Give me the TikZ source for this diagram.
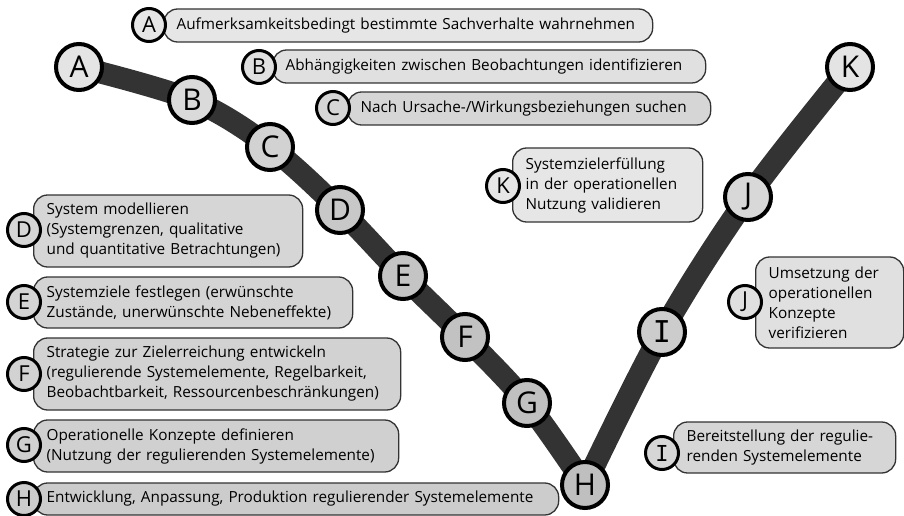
\documentclass[tikz,border=0pt]{standalone}
\usepackage{fontspec}
\setmainfont{Open Sans}
\newfontfamily\serifI{DejaVu Sans Mono}
\usetikzlibrary{backgrounds}
\definecolor{bandc}{HTML}{333333}
\definecolor{cA}{HTML}{E4E4E4}
\definecolor{cB}{HTML}{DADADA}
\definecolor{cC}{HTML}{D2D2D2}
\definecolor{cD}{HTML}{C8C8C8}
\definecolor{cE}{HTML}{C4C4C4}
\definecolor{cF}{HTML}{C2C2C2}
\definecolor{cG}{HTML}{C0C0C0}
\definecolor{cH}{HTML}{BFBFBF}
\definecolor{cI}{HTML}{CCCCCC}
\definecolor{cJ}{HTML}{D8D8D8}
\definecolor{cK}{HTML}{E4E4E4}
\definecolor{bA}{HTML}{E6E6E6}
\definecolor{bB}{HTML}{E0E0E0}
\definecolor{bC}{HTML}{D6D6D6}
\definecolor{bD}{HTML}{D6D6D6}
\definecolor{bE}{HTML}{D4D4D4}
\definecolor{bF}{HTML}{D2D2D2}
\definecolor{bG}{HTML}{D0D0D0}
\definecolor{bH}{HTML}{CCCCCC}
\definecolor{bI}{HTML}{D6D6D6}
\definecolor{bJ}{HTML}{E0E0E0}
\definecolor{bK}{HTML}{E6E6E6}
\begin{document}
\begin{tikzpicture}[x=1pt,y=-1pt,
  big/.style={circle, draw=black, line width=4pt, minimum size=46pt, inner sep=0pt, font=\fontsize{30}{30}\selectfont},
  small/.style={circle, draw=black, line width=3pt, minimum size=33pt, inner sep=0pt, font=\fontsize{22}{22}\selectfont},
  lbl/.style={draw=bandc, line width=1.3pt, rounded corners=14pt, inner xsep=13pt, inner ysep=0pt, align=left, anchor=west, font=\fontsize{15.3}{20}\selectfont},
  band/.style={draw=bandc, line width=22pt}
]
\useasboundingbox (0,0) rectangle (904,516);

% big circles on the V
\node[big, fill=cA] (A) at (79,67) {A};
\node[big, fill=cB] (B) at (192,100) {B};
\node[big, fill=cC] (C) at (270,147) {C};
\node[big, fill=cD] (D) at (340,210) {D};
\node[big, fill=cE] (E) at (403,276) {E};
\node[big, fill=cF] (F) at (465,337) {F};
\node[big, fill=cG] (G) at (527,403) {G};
\node[big, fill=cH] (H) at (585,485) {H};
\node[big, fill=cI] (I) at (662,332) {\serifI I};
\node[big, fill=cJ] (J) at (748,197) {J};
\node[big, fill=cK] (K) at (850,67) {K};

\begin{scope}[on background layer]
\draw[band] plot[smooth, tension=0.55] coordinates {(A.center) (B.center) (C.center) (D.center) (E.center) (F.center) (G.center) (H.center)};
\draw[band] plot[smooth, tension=0.55] coordinates {(H.center) (I.center) (J.center) (K.center)};
\end{scope}

% label boxes
\node[lbl, fill=bA, text width=463pt, minimum height=33pt] (tA) at (163,25.5) {Aufmerksamkeitsbedingt bestimmte Sachverhalte wahrnehmen};
\node[lbl, fill=bB, text width=407pt, minimum height=33pt] (tB) at (272,66.5) {Abhängigkeiten zwischen Beobachtungen identifizieren};
\node[lbl, fill=bC, text width=337pt, minimum height=33pt] (tC) at (347,108.5) {Nach Ursache-/Wirkungsbeziehungen suchen};
\node[lbl, fill=bK, text width=164pt, minimum height=74pt] (tK) at (512,185) {Systemzielerfüllung\\in der operationellen\\Nutzung validieren};
\node[lbl, fill=bD, text width=243pt, minimum height=72pt] (tD) at (33,231) {System modellieren\\(Systemgrenzen, qualitative\\und quantitative Betrachtungen)};
\node[lbl, fill=bE, text width=293pt, minimum height=51pt] (tE) at (33,302.5) {Systemziele festlegen (erwünschte\\Zustände, unerwünschte Nebeneffekte)};
\node[lbl, fill=bF, text width=341pt, minimum height=72pt] (tF) at (33,374) {Strategie zur Zielerreichung entwickeln\\(regulierende Systemelemente, Regelbarkeit,\\Beobachtbarkeit, Ressourcenbeschränkungen)};
\node[lbl, fill=bG, text width=339pt, minimum height=52pt] (tG) at (33,446) {Operationelle Konzepte definieren\\(Nutzung der regulierenden Systemelemente)};
\node[lbl, fill=bH, text width=499pt, minimum height=32pt] (tH) at (33,499) {Entwicklung, Anpassung, Produktion regulierender Systemelemente};
\node[lbl, fill=bJ, text width=122pt, minimum height=91pt] (tJ) at (755,302.5) {Umsetzung der\\operationellen\\Konzepte\\verifizieren};
\node[lbl, fill=bI, text width=196pt, minimum height=51pt] (tI) at (673,447.5) {Bereitstellung der regulie-\\renden Systemelemente};

% small circles
\node[small, fill=bA] (sA) at (149,25) {A};
\node[small, fill=bB] (sB) at (259,67) {B};
\node[small, fill=bC] (sC) at (333,108) {C};
\node[small, fill=bK] (sK) at (503,186) {K};
\node[small, fill=bD] (sD) at (24,230) {D};
\node[small, fill=bE] (sE) at (24,302) {E};
\node[small, fill=bF] (sF) at (24,374) {F};
\node[small, fill=bG] (sG) at (24,445) {G};
\node[small, fill=bH] (sH) at (24,499) {H};
\node[small, fill=bJ] (sJ) at (745,302) {J};
\node[small, fill=bI] (sI) at (662,453) {\serifI I};
\end{tikzpicture}
\end{document}
